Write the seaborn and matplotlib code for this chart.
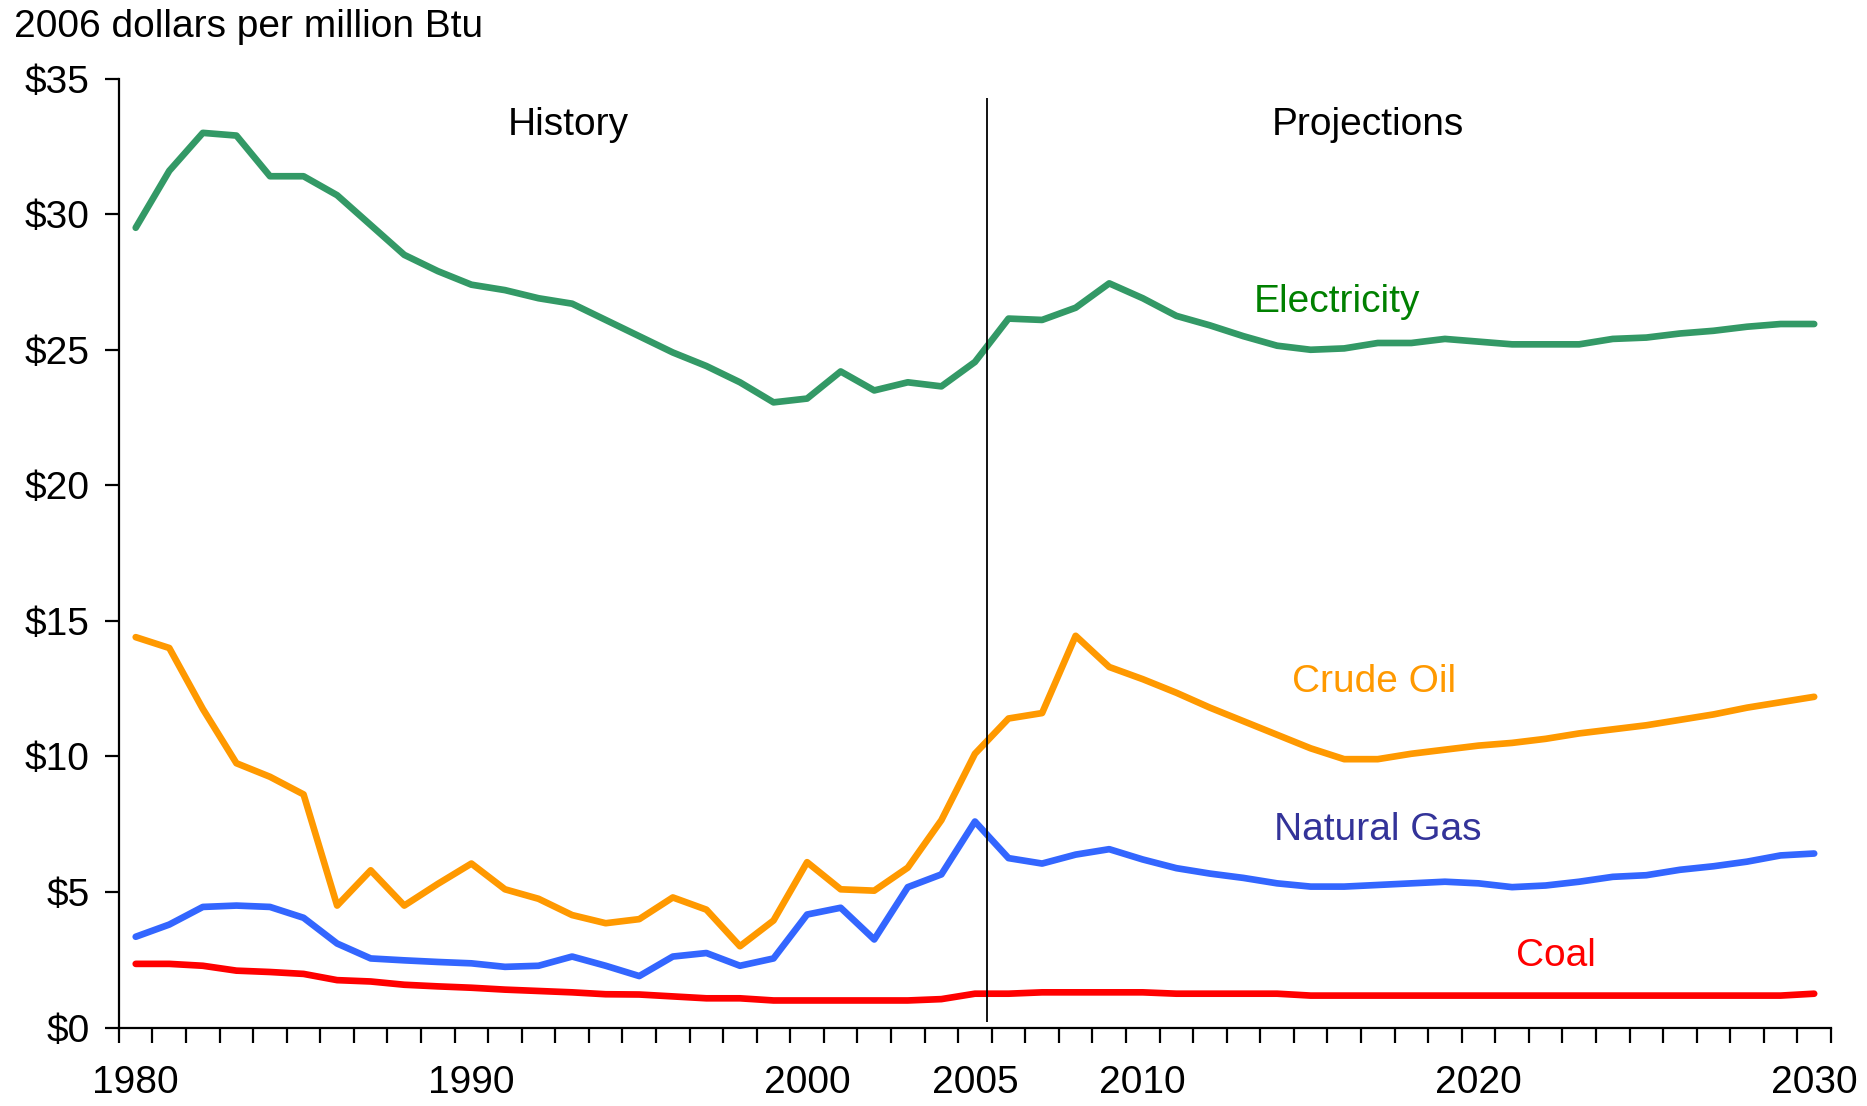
import pandas as pd
import seaborn as sns
import matplotlib.pyplot as plt

years = list(range(1980, 2031))

electricity = [29.5, 31.6, 33.0, 32.9, 31.4, 31.4, 30.7, 29.6, 28.5, 27.9,
               27.4, 27.2, 26.9, 26.7, 26.1, 25.5, 24.9, 24.4, 23.8, 23.06,
               23.2, 24.2, 23.5, 23.8, 23.65, 24.55, 26.15, 26.1, 26.55, 27.45,
               26.9, 26.25, 25.9, 25.5, 25.15, 25.0, 25.05, 25.25, 25.25, 25.4,
               25.3, 25.2, 25.2, 25.2, 25.4, 25.45, 25.6, 25.7, 25.85, 25.95,
               25.95]

crude_oil = [14.4, 14.0, 11.75, 9.75, 9.25, 8.6, 4.5, 5.8, 4.5, 5.3,
             6.05, 5.1, 4.75, 4.15, 3.85, 4.0, 4.8, 4.35, 3.0, 3.95,
             6.1, 5.1, 5.05, 5.9, 7.65, 10.1, 11.4, 11.6, 14.45, 13.3,
             12.85, 12.35, 11.8, 11.3, 10.8, 10.3, 9.9, 9.9, 10.1, 10.25,
             10.4, 10.5, 10.65, 10.85, 11.0, 11.15, 11.35, 11.55, 11.8, 12.0,
             12.2]

natural_gas = [3.35, 3.8, 4.45, 4.5, 4.45, 4.05, 3.1, 2.55, 2.48, 2.42,
               2.37, 2.24, 2.28, 2.62, 2.28, 1.9, 2.62, 2.75, 2.28, 2.55,
               4.17, 4.42, 3.25, 5.18, 5.65, 7.6, 6.25, 6.05, 6.38, 6.58,
               6.2, 5.88, 5.68, 5.52, 5.32, 5.2, 5.2, 5.26, 5.32, 5.38,
               5.32, 5.18, 5.24, 5.38, 5.56, 5.62, 5.82, 5.95, 6.12, 6.35,
               6.42]

coal = [2.35, 2.35, 2.28, 2.1, 2.05, 1.98, 1.75, 1.7, 1.58, 1.52,
        1.47, 1.4, 1.35, 1.3, 1.23, 1.22, 1.15, 1.08, 1.08, 1.0,
        1.0, 1.0, 1.0, 1.0, 1.05, 1.25, 1.25, 1.3, 1.3, 1.3,
        1.3, 1.25, 1.25, 1.25, 1.25, 1.18, 1.18, 1.18, 1.18, 1.18,
        1.18, 1.18, 1.18, 1.18, 1.18, 1.18, 1.18, 1.18, 1.18, 1.18,
        1.25]

fuels = ['Electricity', 'Crude Oil', 'Natural Gas', 'Coal']
line_colors = ['#339966', '#FF9900', '#3366FF', '#FF0000']
label_colors = ['#008000', '#FF9900', '#333399', '#FF0000']
label_pos = [(2015.8, 26.75), (2016.9, 12.75), (2017.0, 7.28), (2022.3, 2.65)]

tick_years = [1980, 1990, 2000, 2005, 2010, 2020, 2030]
y_ticks = [0, 5, 10, 15, 20, 25, 30, 35]
history_end = 2005.35

df = pd.DataFrame({
    'year': years * 4,
    'price': electricity + crude_oil + natural_gas + coal,
    'fuel': [f for f in fuels for _ in years],
})

sns.set_style('white')
plt.rcParams['font.family'] = ['Liberation Sans', 'DejaVu Sans']
plt.rcParams['text.color'] = 'black'
plt.rcParams['xtick.color'] = 'black'
plt.rcParams['ytick.color'] = 'black'

FS = 28

fig = plt.figure(figsize=(18.67, 11.06), dpi=100)
ax = fig.add_axes([0.0637, 0.0709, 0.917, 0.858])

sns.lineplot(data=df, x='year', y='price', hue='fuel', hue_order=fuels,
             palette=line_colors, linewidth=4.8, legend=False, ax=ax)

ax.set_xlim(1979.5, 2030.5)
ax.set_ylim(0, 35)
ax.set_xlabel('')
ax.set_ylabel('')

for s in ['top', 'right']:
    ax.spines[s].set_visible(False)
for s in ['left', 'bottom']:
    ax.spines[s].set_color('black')
    ax.spines[s].set_linewidth(1.6)

ax.set_yticks(y_ticks)
ax.set_yticklabels(['$' + str(v) for v in y_ticks])
ax.tick_params(axis='y', left=True, direction='out', length=10, width=1.6,
               pad=11, labelsize=FS)

ax.set_xticks(tick_years)
ax.set_xticklabels([str(y) for y in tick_years])
ax.set_xticks([y - 0.5 for y in years] + [2030.5], minor=True)
ax.tick_params(axis='x', which='major', bottom=True, length=0, pad=27,
               labelsize=FS)
ax.tick_params(axis='x', which='minor', bottom=True, direction='out',
               length=11, width=1.6)

# history / projections divider
ax.vlines(history_end, 0.2, 34.3, color='black', linewidth=1.3)
ax.text(1992.9, 33.3, 'History', fontsize=FS, ha='center', va='center')
ax.text(2016.7, 33.3, 'Projections', fontsize=FS, ha='center', va='center')

for name, col, (x, y) in zip(fuels, label_colors, label_pos):
    ax.text(x, y, name, color=col, fontsize=FS, ha='center', va='center')

fig.text(0.0075, 0.976, '2006 dollars per million Btu', fontsize=FS,
         ha='left', va='center')

fig.savefig('out.png', dpi=100)
